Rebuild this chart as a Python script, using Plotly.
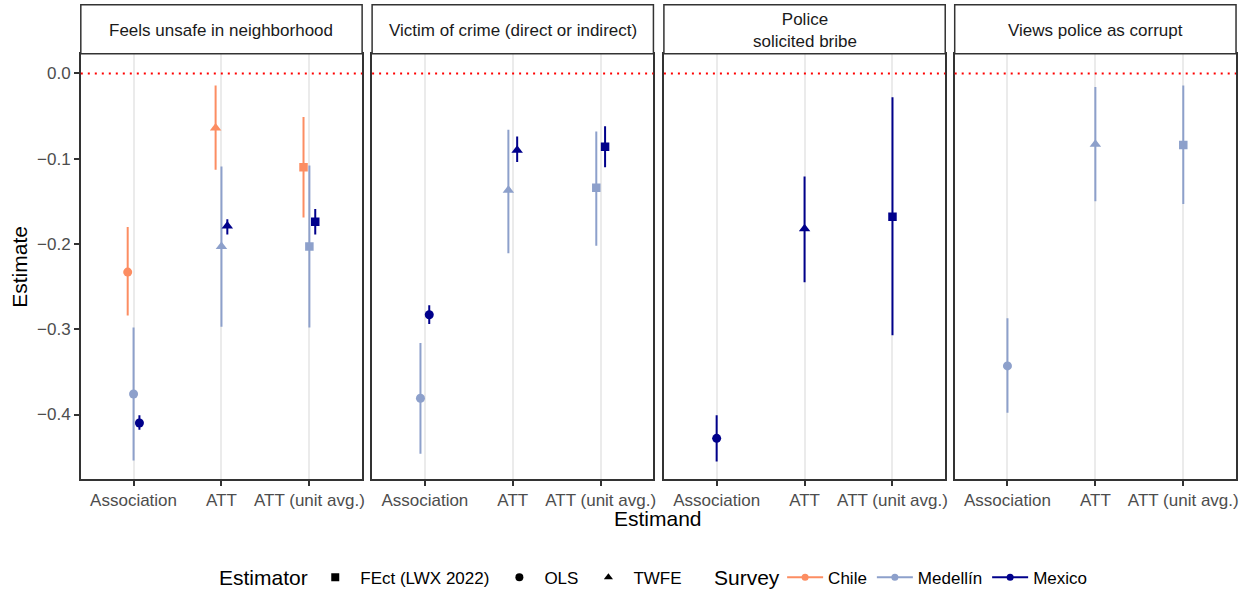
import plotly.graph_objects as go

# ---------------- data ----------------
outcomes = ["Feels unsafe in neighborhood", "Victim of crime (direct or indirect)",
            "Police<br>solicited bribe", "Views police as corrupt"]
estimands = ["Association", "ATT", "ATT (unit avg.)"]
estimand_estimator = ["OLS", "TWFE", "FEct (LWX 2022)"]
estimator_order = ["FEct (LWX 2022)", "OLS", "TWFE"]
surveys = ["Chile", "Medellín", "Mexico"]

# Chile (outcome index, estimand index)
chile_outcome = [0, 0, 0]
chile_estimand = [0, 1, 2]
chile_est = [-0.233, -0.064, -0.110]
chile_lo = [-0.284, -0.113, -0.169]
chile_hi = [-0.180, -0.014, -0.051]

# Medellín
medellin_outcome = [0, 0, 0, 1, 1, 1, 3, 3, 3]
medellin_estimand = [0, 1, 2, 0, 1, 2, 0, 1, 2]
medellin_est = [-0.376, -0.203, -0.203, -0.381, -0.137, -0.134, -0.343, -0.083, -0.084]
medellin_lo = [-0.454, -0.297, -0.298, -0.446, -0.211, -0.202, -0.398, -0.150, -0.153]
medellin_hi = [-0.298, -0.109, -0.108, -0.316, -0.066, -0.068, -0.287, -0.016, -0.014]

# Mexico
mexico_outcome = [0, 0, 0, 1, 1, 1, 2, 2, 2]
mexico_estimand = [0, 1, 2, 0, 1, 2, 0, 1, 2]
mexico_est = [-0.410, -0.179, -0.174, -0.283, -0.090, -0.086, -0.428, -0.182, -0.168]
mexico_lo = [-0.418, -0.189, -0.189, -0.294, -0.104, -0.110, -0.455, -0.245, -0.307]
mexico_hi = [-0.401, -0.171, -0.159, -0.272, -0.074, -0.062, -0.401, -0.121, -0.028]

y_ticks = [0.0, -0.1, -0.2, -0.3, -0.4]
y_ticktext = ["0.0", "\u22120.1", "\u22120.2", "\u22120.3", "\u22120.4"]

# ---------------- styles ----------------
colors = {"Chile": "#FC8D62", "Medellín": "#8DA0CB", "Mexico": "#00008B"}
symbols = {"FEct (LWX 2022)": "square", "OLS": "circle", "TWFE": "triangle-up"}
sizes = {"FEct (LWX 2022)": 8.5, "OLS": 9, "TWFE": 10}

W, H = 1251, 596
FONT = "Liberation Sans, Arial, sans-serif"
panel_left = [81, 373, 665.5, 957]
panel_w = 282
y_top_px, y_bot_px = 55, 485
strip_top_px, strip_bot_px = 4.7, 54.5
y_range = [-0.476, 0.0224]
dodge_width = 0.2
legend_y_px = 584.5

data = {
    "Chile": (chile_outcome, chile_estimand, chile_est, chile_lo, chile_hi),
    "Medellín": (medellin_outcome, medellin_estimand, medellin_est, medellin_lo, medellin_hi),
    "Mexico": (mexico_outcome, mexico_estimand, mexico_est, mexico_lo, mexico_hi),
}

# which surveys are present in each (outcome, estimand) cell -> dodge
cells = {}
for s in surveys:
    o, e, *_ = data[s]
    for oi, ei in zip(o, e):
        cells.setdefault((oi, ei), []).append(s)

fig = go.Figure()

def ax(i, kind):
    return kind if i == 0 else f"{kind}{i + 1}"

for s in surveys:
    o, e, est, lo, hi = data[s]
    for p in range(len(outcomes)):
        idx = [k for k in range(len(o)) if o[k] == p]
        if not idx:
            continue
        xs, ys, up, dn, syms, szs = [], [], [], [], [], []
        for k in idx:
            present = cells[(o[k], e[k])]
            n = len(present)
            j = present.index(s)
            off = (j - (n - 1) / 2) * dodge_width / n
            xs.append(e[k] + 1 + off)
            ys.append(est[k])
            up.append(hi[k] - est[k])
            dn.append(est[k] - lo[k])
            en = estimand_estimator[e[k]]
            syms.append(symbols[en])
            szs.append(sizes[en])
        fig.add_trace(go.Scatter(
            x=xs, y=ys, mode="markers", showlegend=False,
            xaxis=ax(p, "x"), yaxis=ax(p, "y"),
            marker=dict(symbol=syms, size=szs, color=colors[s], opacity=1,
                        line=dict(width=0)),
            error_y=dict(type="data", symmetric=False, array=up, arrayminus=dn,
                         width=0, thickness=2, color=colors[s]),
            hoverinfo="skip",
        ))

# legend traces
for en in estimator_order:
    fig.add_trace(go.Scatter(
        x=[None], y=[None], mode="markers", name=en, legend="legend",
        marker=dict(symbol=symbols[en], size=8, color="black", opacity=1),
    ))
for s in surveys:
    fig.add_trace(go.Scatter(
        x=[None], y=[None], mode="lines+markers", name=s, legend="legend2",
        line=dict(color=colors[s], width=2),
        marker=dict(symbol="circle", size=7, color=colors[s], opacity=1),
    ))

shapes = []
annotations = []
layout = {}
for p in range(4):
    x0 = panel_left[p] / W
    x1 = (panel_left[p] + panel_w) / W
    xname = "xaxis" if p == 0 else f"xaxis{p + 1}"
    yname = "yaxis" if p == 0 else f"yaxis{p + 1}"
    layout[xname] = dict(
        domain=[x0, x1], range=[0.4, 3.6], anchor=ax(p, "y"),
        tickmode="array", tickvals=[1, 2, 3], ticktext=estimands,
        showgrid=True, gridcolor="#EBEBEB", gridwidth=2,
        zeroline=False, showline=True, mirror=True, linecolor="#333333", linewidth=1.5,
        ticks="outside", ticklen=5, tickwidth=1.5, tickcolor="#333333",
        tickfont=dict(family=FONT, size=17, color="#4D4D4D"), fixedrange=True,
    )
    layout[yname] = dict(
        domain=[1 - y_bot_px / H, 1 - y_top_px / H], range=y_range, anchor=ax(p, "x"),
        tickmode="array", tickvals=y_ticks, ticktext=y_ticktext,
        showgrid=False, zeroline=False,
        showline=True, mirror=True, linecolor="#333333", linewidth=1.5,
        ticks="outside" if p == 0 else "", ticklen=5, tickwidth=1.5, tickcolor="#333333",
        showticklabels=(p == 0),
        tickfont=dict(family=FONT, size=17, color="#4D4D4D"), fixedrange=True,
    )
    # reference line at zero
    shapes.append(dict(type="line", xref=f"{ax(p, 'x')} domain", yref=ax(p, "y"),
                       x0=0, x1=1, y0=0, y1=0,
                       line=dict(color="red", width=2, dash="2px,5px")))
    # strip
    shapes.append(dict(type="rect", xref=f"{ax(p, 'x')} domain", yref="paper",
                       x0=0, x1=1, y0=1 - strip_bot_px / H, y1=1 - strip_top_px / H,
                       fillcolor="white", line=dict(color="#333333", width=1.5)))
    annotations.append(dict(
        text=outcomes[p], xref=f"{ax(p, 'x')} domain", yref="paper",
        x=0.5, y=1 - ((strip_top_px + strip_bot_px) / 2 + 1.0) / H,
        xanchor="center", yanchor="middle", showarrow=False,
        font=dict(family=FONT, size=17, color="#1A1A1A"),
    ))

annotations.append(dict(text="Estimate", xref="paper", yref="paper",
                        x=20 / W, y=1 - 270 / H, textangle=-90, showarrow=False,
                        xanchor="center", yanchor="middle",
                        font=dict(family=FONT, size=21, color="black")))
annotations.append(dict(text="Estimand", xref="paper", yref="paper",
                        x=660 / W, y=1 - 525 / H, showarrow=False,
                        xanchor="center", yanchor="middle",
                        font=dict(family=FONT, size=21, color="black")))
# legend titles
annotations.append(dict(text="Estimator", xref="paper", yref="paper",
                        x=311 / W, y=1 - legend_y_px / H, showarrow=False,
                        xanchor="right", yanchor="middle",
                        font=dict(family=FONT, size=21, color="black")))
annotations.append(dict(text="Survey", xref="paper", yref="paper",
                        x=784 / W, y=1 - legend_y_px / H, showarrow=False,
                        xanchor="right", yanchor="middle",
                        font=dict(family=FONT, size=21, color="black")))

fig.update_layout(
    width=W, height=H, autosize=False,
    margin=dict(l=0, r=0, t=0, b=0),
    paper_bgcolor="white", plot_bgcolor="white",
    shapes=shapes, annotations=annotations,
    font=dict(family=FONT),
    legend=dict(orientation="h", x=311 / W, y=1 - legend_y_px / H,
                xanchor="left", yanchor="middle", itemwidth=40,
                font=dict(size=17, color="black"), bgcolor="rgba(0,0,0,0)"),
    legend2=dict(orientation="h", x=784 / W, y=1 - legend_y_px / H,
                 xanchor="left", yanchor="middle", itemwidth=36,
                 font=dict(size=17, color="black"), bgcolor="rgba(0,0,0,0)"),
    **layout,
)

fig.write_html("out.html")
